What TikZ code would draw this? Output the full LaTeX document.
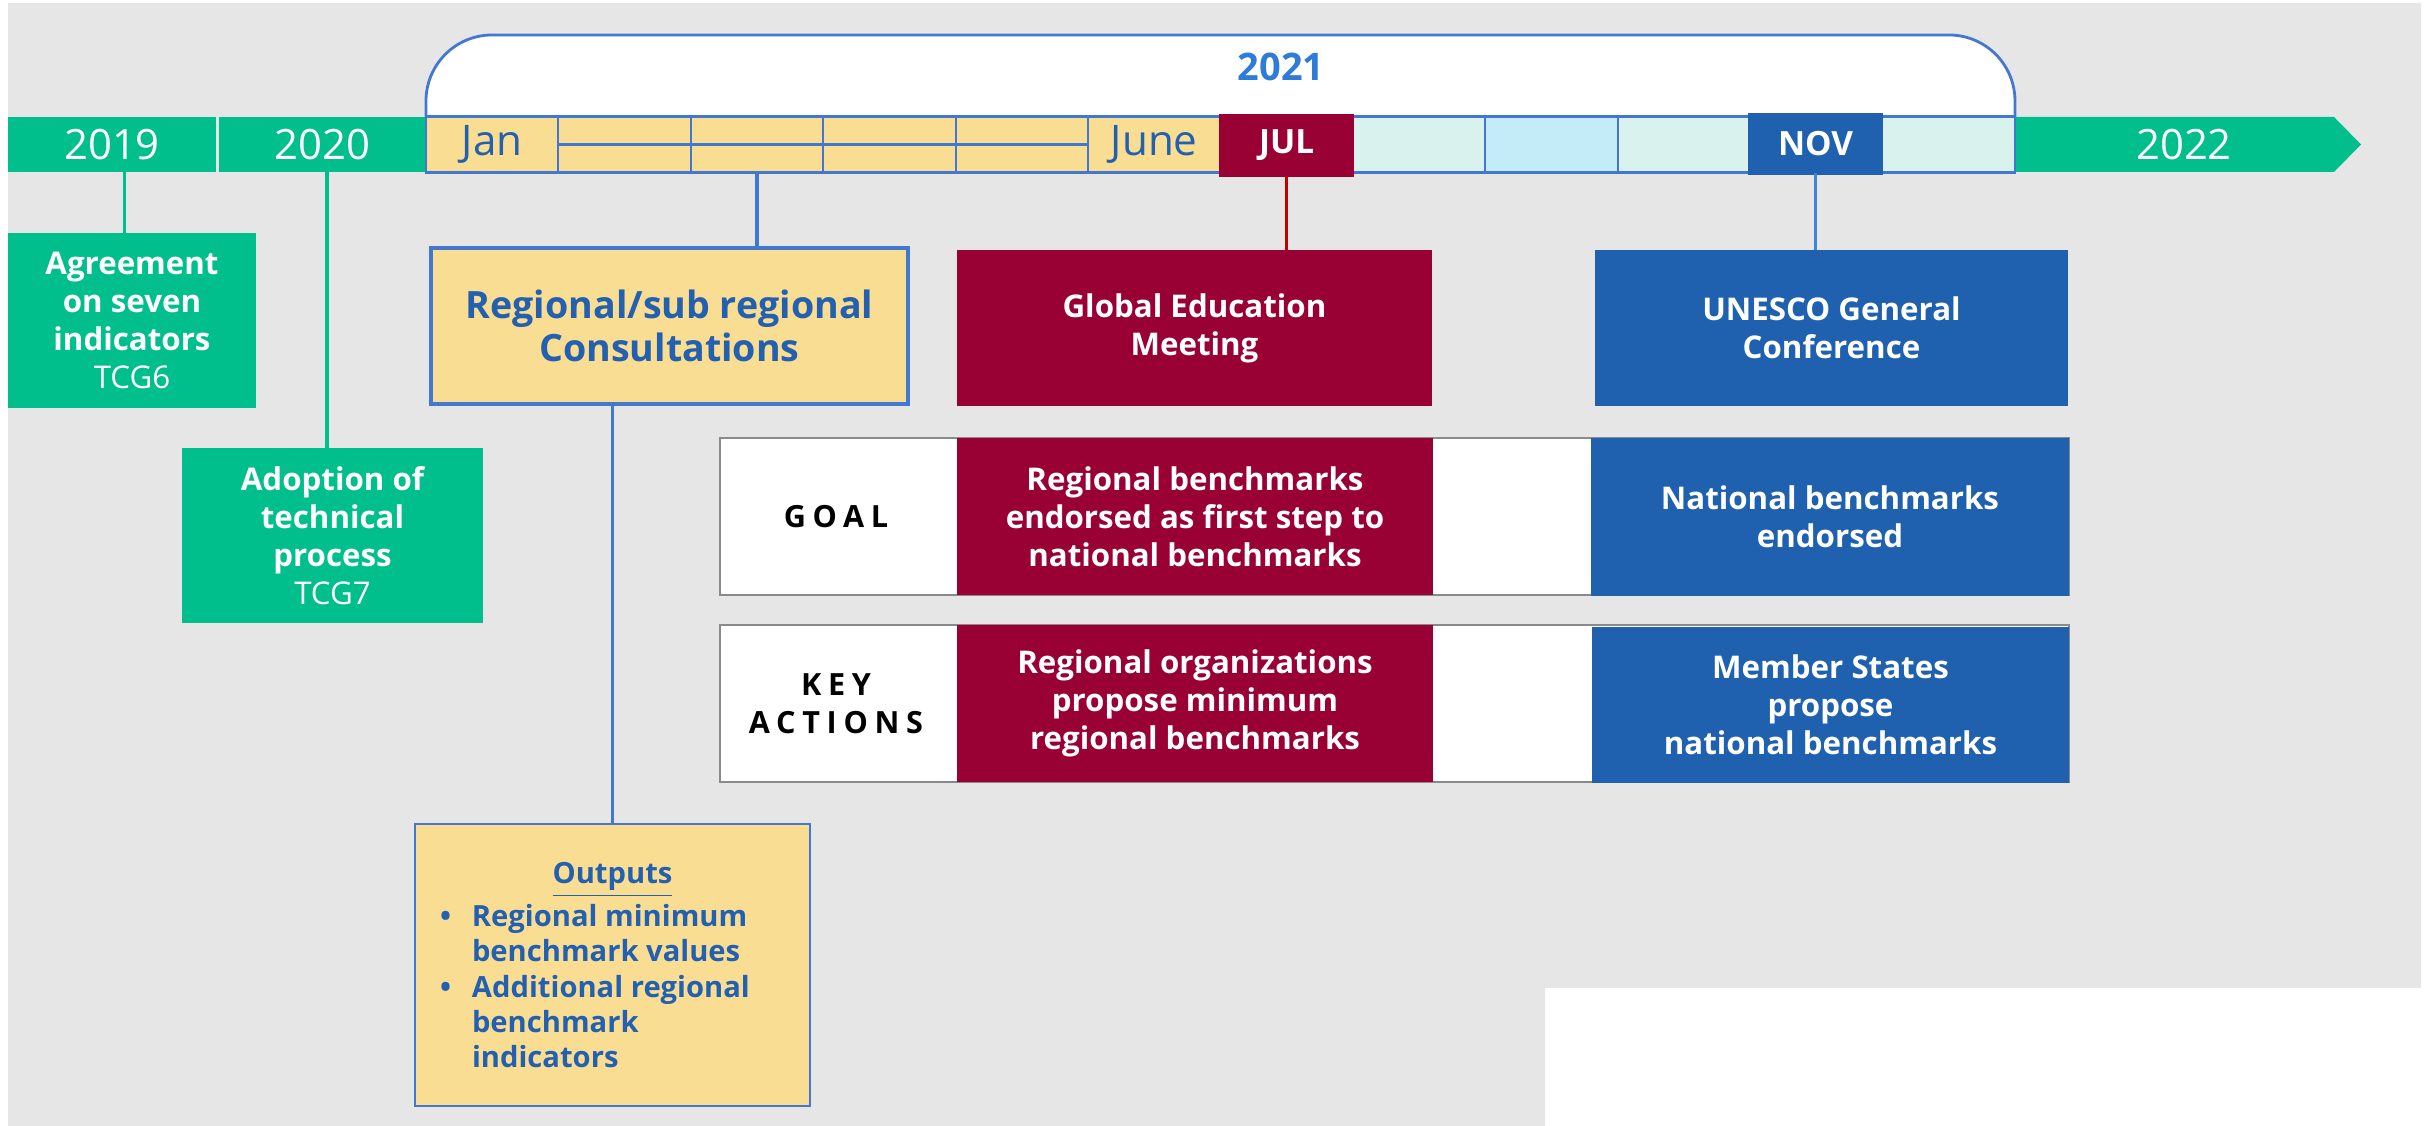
\documentclass[tikz,border=0pt]{standalone}
\usepackage{fontspec}
\setmainfont{Open Sans}
\newfontfamily\spacedfont[LetterSpace=22]{Open Sans}
\usepackage{tikz}
\usetikzlibrary{calc, positioning}
\definecolor{bggrey}{HTML}{E6E6E6}
\definecolor{tlgreen}{HTML}{00BF8C}
\definecolor{tlyellow}{HTML}{F8DD93}
\definecolor{tlred}{HTML}{990033}
\definecolor{tlblue}{HTML}{1F60AF}
\definecolor{tlmint}{HTML}{D9F2EE}
\definecolor{tlsky}{HTML}{C3EBF8}
\definecolor{edgeblue}{HTML}{4278D2}
\definecolor{textblue}{HTML}{2460B0}
\definecolor{yearblue}{HTML}{2E7BD8}
\definecolor{rowgrey}{HTML}{8A8A8A}
\definecolor{linered}{HTML}{C00000}
\definecolor{lineblue}{HTML}{3C85DB}
\tikzstyle{tlbox} = [inner sep=0pt, outer sep=0pt, align=center, font=\bfseries\fontsize{8.9}{10.8}\selectfont]
\tikzstyle{yearbox} = [inner sep=0pt, outer sep=0pt, fill=tlgreen, text=white, minimum height=5.5mm, font=\fontsize{11.9}{14}\selectfont]
\tikzstyle{monthcell} = [inner sep=0pt, outer sep=0pt, draw=edgeblue, line width=0.6pt, minimum width=13.24mm, minimum height=5.6mm]
\tikzstyle{monthtext} = [text=textblue, font=\fontsize{12}{14}\selectfont]
\tikzstyle{markmonth} = [text=white, font=\bfseries\fontsize{9.5}{11}\selectfont]
\tikzstyle{rowbox} = [inner sep=0pt, outer sep=0pt, fill=white, draw=rowgrey, line width=0.6pt, minimum width=134.9mm, minimum height=15.7mm]
\tikzstyle{rowlabel} = [align=center, font=\spacedfont\bfseries\fontsize{8.7}{10.8}\selectfont]
\tikzstyle{greenline} = [tlgreen, line width=1.1pt]
\tikzstyle{blueline} = [edgeblue, line width=1pt]

\begin{document}
\begin{tikzpicture}[x=0.1mm, y=-0.1mm]
	\useasboundingbox (0,0) rectangle (2433,1126);
	\fill[bggrey] (8,3) -- (2421,3) -- (2421,988) -- (1545,988) -- (1545,1126) -- (8,1126) -- cycle;

	\draw[edgeblue, fill=white, line width=0.8pt, rounded corners=6.6mm] (426,117) -- (426,35) -- (2015,35) -- (2015,117);
	\node[text=yearblue, font=\bfseries\fontsize{10.8}{13}\selectfont] (y2021) at (1281,67) {2021};

	\node[yearbox, minimum width=20.8mm] (y2019) at (112,144.5) {2019};
	\node[yearbox, minimum width=20.7mm] (y2020) at (322.5,144.5) {2020};
	\fill[tlgreen] (2015,117) -- (2334,117) -- (2361,144.5) -- (2334,172) -- (2015,172) -- cycle;
	\node[text=white, font=\fontsize{11.9}{14}\selectfont] (y2022) at (2184,144.5) {2022};

	\foreach \i/\c in {0/tlyellow,1/tlyellow,2/tlyellow,3/tlyellow,4/tlyellow,5/tlyellow,
		7/tlmint,8/tlsky,9/tlmint,11/tlmint}
		\node[monthcell, fill=\c] (m\i) at ({492.2+132.4*\i},144.5) {};
	\foreach \i in {1,...,4}
		\draw[edgeblue, line width=0.8pt] (m\i.west) -- (m\i.east);
	\node[monthcell, fill=tlred, draw=tlred, minimum height=6.1mm] (m6) at (1286.6,145.5) {};
	\node[monthcell, fill=tlblue, draw=tlblue, minimum height=5.9mm] (m10) at (1815.6,144) {};
	\node[monthtext] (jan) at (m0) {Jan};
	\node[monthtext] (june) at (m5) {June};
	\node[markmonth] (jul) at (m6) {JUL};
	\node[markmonth] (nov) at (m10) {NOV};

	\node[tlbox, fill=tlgreen, text=white, minimum width=24.8mm, minimum height=17.5mm] (agree) at (132,320.5)
		{Agreement\\on seven\\indicators\\{\mdseries TCG6}};
	\node[tlbox, fill=tlgreen, text=white, minimum width=30.1mm, minimum height=17.5mm] (adopt) at (332.5,535.5)
		{Adoption of\\technical\\process\\{\mdseries TCG7}};
	\node[tlbox, fill=tlyellow, draw=edgeblue, line width=0.9pt, text=textblue, font=\bfseries\fontsize{10.7}{12.2}\selectfont,
		minimum width=47.7mm, minimum height=15.6mm] (regional) at (669.5,326) {Regional/sub regional\\Consultations};
	\node[tlbox, fill=tlred, text=white, minimum width=47.5mm, minimum height=15.6mm] (gem) at (1194.5,328)
		{Global Education\\Meeting};
	\node[tlbox, fill=tlblue, text=white, minimum width=47.3mm, minimum height=15.6mm] (unesco) at (1831.5,328)
		{UNESCO General\\Conference};

	\node[rowbox] (goalrow) at (1394.5,516.5) {};
	\node[rowlabel] (goal) at (836,516.5) {GOAL};
	\node[tlbox, fill=tlred, text=white, minimum width=47.6mm, minimum height=15.7mm] (goalred) at (1195,516.5)
		{Regional benchmarks\\endorsed as first step to\\national benchmarks};
	\node[tlbox, fill=tlblue, text=white, minimum width=47.8mm, minimum height=15.8mm] (goalblue) at (1830,517)
		{National benchmarks\\endorsed};

	\node[rowbox] (keyrow) at (1394.5,703.5) {};
	\node[rowlabel] (key) at (836,703.5) {KEY\\ACTIONS};
	\node[tlbox, fill=tlred, text=white, minimum width=47.6mm, minimum height=15.7mm] (keyred) at (1195,703.5)
		{Regional organizations\\propose minimum\\regional benchmarks};
	\node[tlbox, fill=tlblue, text=white, minimum width=47.7mm, minimum height=15.6mm] (keyblue) at (1830.5,705)
		{Member States\\propose\\national benchmarks};

	\node[tlbox, fill=tlyellow, draw=edgeblue, line width=0.8pt, text=textblue, font=\bfseries\fontsize{8.3}{10}\selectfont,
		minimum width=39.5mm, minimum height=28.2mm] (outputs) at (612.5,965) {%
		\underline{Outputs}\\[1pt]
		\makebox[34.5mm][l]{\makebox[3.2mm][l]{\textbullet}Regional minimum}\\
		\makebox[34.5mm][l]{\hspace*{3.2mm}benchmark values}\\
		\makebox[34.5mm][l]{\makebox[3.2mm][l]{\textbullet}Additional regional}\\
		\makebox[34.5mm][l]{\hspace*{3.2mm}benchmark}\\
		\makebox[34.5mm][l]{\hspace*{3.2mm}indicators}};

	\draw[greenline] ([xshift=-0.75mm]agree.north) -- ([xshift=-0.75mm]agree.north |- y2019.south);
	\draw[greenline] ([xshift=0.45mm]y2020.south) -- ([xshift=0.45mm]y2020.south |- adopt.north);
	\draw[blueline] (m2.south) -- (m2.south |- regional.north);
	\draw[blueline] (outputs.north) -- (outputs.north |- regional.south);
	\draw[linered, line width=1pt] (m6.south) -- (m6.south |- gem.north);
	\draw[lineblue, line width=1pt] (m10.south) -- (m10.south |- unesco.north);
\end{tikzpicture}
\end{document}
